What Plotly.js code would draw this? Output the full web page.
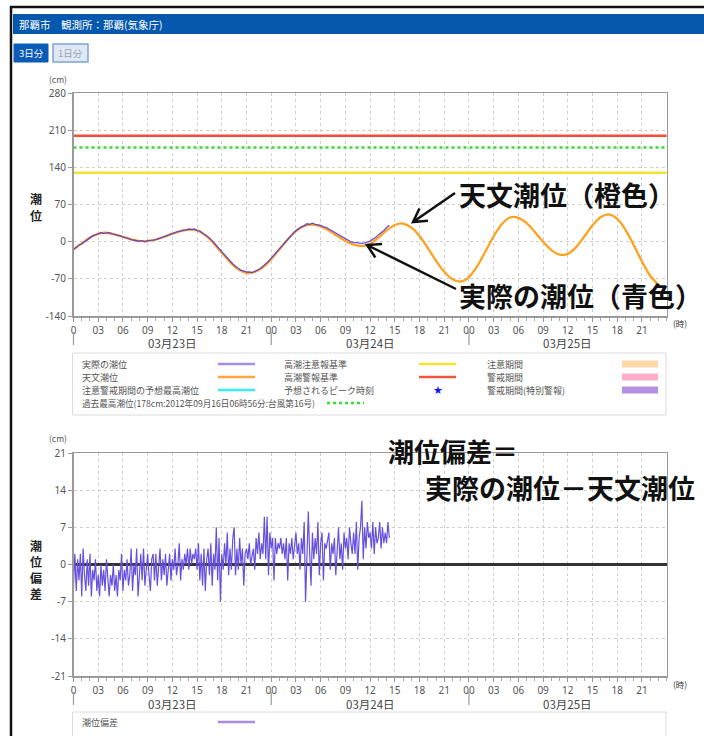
<!DOCTYPE html>
<html>
<head>
<meta charset="utf-8">
<script src="https://cdn.plot.ly/plotly-3.0.1.min.js"></script>
<style>
html,body{margin:0;padding:0;background:#fff;}
#chart{width:704px;height:736px;}
</style>
</head>
<body>
<div id="chart"></div>
<script>
// ---------------- DATA ----------------
// Astronomical tide (cm), hourly from 03/23 00:00
const astroTide = [-14,-3,8,15,17,14,9.3,4.4,1.4,1.4,
  4.3,9.4,15.2,20.1,22.8,21.5,12.6,-2.5,-20.8,-38.5,
  -52,-58.6,-57,-47.9,-32.7,-14.2,4.5,20.1,29.9,32.4,
  28.9,21.2,11.2,1.5,-5.4,-8,-3.6,7.8,21.5,31.7,
  34.4,27,10.7,-11.8,-35.8,-56.7,-70.7,-75,-66.6,-46.1,
  -18.4,10.4,33.5,45.8,45.2,35.1,18.5,-0.1,-15.7,-24.2,
  -22.8,-10.1,10,31.1,46.6,51.5,43,22.4,-6.3,-37.3,
  -64.1,-81.5];
const astroStepHours = 1;

// Observed tide (cm), every 20 minutes from 03/23 00:00
const observedTide = [-15,-10,-6, -4,0,4, 7,11,13, 15,17,16, 17,17,15, 14,12,11,
  9,8,6, 4,3,2, 1,2,0, 2,2,3, 4,6,7, 10,11,13, 15,17,19, 20,22,22, 24,23,24,
  21,20,16, 13,9,5, -2,-7,-13, -19,-26,-31, -37,-42,-46, -50,-54,-55, -57,-57,-58,
  -56,-53,-51, -46,-42,-37, -31,-25,-19, -12,-6,0, 6,11,16, 21,25,28, 30,34,33,
  35,33,32, 31,28,27, 24,21,18, 15,12,8, 5,3,0, -1,-2,-3, -3,-2,0, 1,5,8,
  13,17,21, 27,31];
const observedStepHours = 1/3;

// Tide deviation (cm) = observed - astronomical, every 10 minutes
const tideDeviation = [
  -4,2,-5,1,-3,2,  -6,3,-2,-5,1,-4,  2,-6,-1,-3,1,-5,  -2,-6,0,-4,-1,-5,
  1,-3,-6,-2,-4,0,  -5,-2,-6,-1,-3,2,  -5,-1,-3,1,-4,-2,  3,-5,0,-2,3,-6,
  -1,2,-3,3,-4,0,  2,-2,-5,1,2,-3,  2,-4,-1,3,-3,1,  -2,2,-4,0,2,-3,
  1,-1,3,-2,0,4,  -3,1,-1,2,0,3,  -1,3,0,2,1,3,  -1,4,-3,2,-4,3,
  -5,1,3,-2,4,-4,  2,-1,7,-3,5,-7,  2,-1,4,0,6,-2,  3,-1,5,7,-2,3,
  -1,5,0,3,-4,2,  3,1,4,0,2,3,  -1,5,2,6,1,4,  2,9,1,9,-2,6,
  3,5,-3,5,2,4,  3,5,2,4,1,5,  -3,4,2,5,1,3,  6,2,4,-1,5,2,
  8,-7,4,10,2,-4,  6,1,5,2,8,-2,  4,6,-3,4,3,5,  6,-1,4,2,5,-2,
  3,7,1,4,-1,6,  3,5,1,7,4,2,  6,2,8,-1,5,7,  12,1,7,3,8,5,
  6,3,8,2,7,4,  5,8,3,7,4,6,  4,8,5];
const deviationStepHours = 1/6;

const advisoryLevel = 130;   // 高潮注意報基準
const warningLevel = 200;    // 高潮警報基準
const recordLevel = 178;     // 過去最高潮位
const hoursTotal = 72;

const hourTickValues = [0,3,6,9,12,15,18,21,24,27,30,33,36,39,42,45,48,51,54,57,60,63,66,69];
const hourTickLabels = ["0","03","06","09","12","15","18","21","00","03","06","09","12","15","18","21","00","03","06","09","12","15","18","21"];
const dateLabels = ["03月23日","03月24日","03月25日"];
const dateLabelHours = [12,36,60];
const dateSeparatorHours = [0,24,48];
const tideTickValues = [-140,-70,0,70,140,210,280];
const tideTickLabels = ["-140","-70","0","70","140","210","280"];
const devTickValues = [-21,-14,-7,0,7,14,21];
const devTickLabels = ["-21","-14","-7","0","7","14","21"];
const topTitleChars = ['潮','位'];
const bottomTitleChars = ['潮','位','偏','差'];

// ---------------- LAYOUT HELPERS ----------------
const W = 704, H = 736;
const fx = x => x / W;
const fy = y => 1 - y / H;
const plotL = 73.5, plotR = 666.7;
const topT = 93.3, topB = 316, botT = 453, botB = 676;
const hx = h => fx(plotL) + (fx(plotR) - fx(plotL)) * h / hoursTotal;

const FONT = '"Noto Sans CJK JP", "Noto Sans", sans-serif';
const TICKFONT = {family: '"Noto Sans", "DejaVu Sans", sans-serif', size: 10, color: '#555'};

const seq = (arr, step) => arr.map((_, i) => i * step);

const traces = [
  {x:[0,hoursTotal], y:[advisoryLevel,advisoryLevel], mode:'lines', line:{color:'#f3e433', width:2.5}, name:'高潮注意報基準', xaxis:'x', yaxis:'y', hoverinfo:'skip'},
  {x:[0,hoursTotal], y:[warningLevel,warningLevel], mode:'lines', line:{color:'#f44b3b', width:2.5}, name:'高潮警報基準', xaxis:'x', yaxis:'y', hoverinfo:'skip'},
  {x:[0,hoursTotal], y:[recordLevel,recordLevel], mode:'lines', line:{color:'#2fe02f', width:2.5, dash:'dot'}, name:'過去最高潮位', xaxis:'x', yaxis:'y', hoverinfo:'skip'},
  {x:seq(astroTide, astroStepHours), y:astroTide, mode:'lines', line:{color:'#ffa21f', width:2.3, shape:'spline', smoothing:0.8}, name:'天文潮位', xaxis:'x', yaxis:'y'},
  {x:seq(observedTide, observedStepHours), y:observedTide, mode:'lines', line:{color:'#5a3cdc', width:1.3}, opacity:0.9, name:'実際の潮位', xaxis:'x', yaxis:'y'},
  {x:seq(tideDeviation, deviationStepHours), y:tideDeviation, mode:'lines', line:{color:'#6650df', width:1.2}, name:'潮位偏差', xaxis:'x2', yaxis:'y2'}
];

function xAxis(anchor){
  return {
    domain:[fx(plotL), fx(plotR)], range:[0,hoursTotal], anchor:anchor,
    tickmode:'array', tickvals:hourTickValues, ticktext:hourTickLabels,
    ticks:'outside', ticklen:4, tickcolor:'#999', tickfont:TICKFONT,
    showgrid:true, gridcolor:'#cfcfcf', griddash:'dot', gridwidth:1,
    showline:true, linecolor:'#9a9a9a', linewidth:1.5, mirror:true,
    zeroline:false, fixedrange:true,
    minor:{tickmode:'linear', tick0:0, dtick:1, ticks:'outside', ticklen:3, tickcolor:'#aaa', showgrid:false}
  };
}

const shapes = [];
const annotations = [];

function rect(x0,y0,x1,y1,fill,line,lw){
  shapes.push({type:'rect', xref:'paper', yref:'paper', x0:fx(x0), x1:fx(x1), y0:fy(y0), y1:fy(y1),
    fillcolor:fill, line:{color:line||'rgba(0,0,0,0)', width:lw||0}, layer:'below'});
}
function seg(x0,y0,x1,y1,color,w,dash){
  shapes.push({type:'line', xref:'paper', yref:'paper', x0:fx(x0), x1:fx(x1), y0:fy(y0), y1:fy(y1),
    line:{color:color, width:w, dash:dash||'solid'}});
}
function txt(text,x,y,opts){
  opts = opts || {};
  annotations.push({text:text, xref:'paper', yref:'paper', x:fx(x), y:fy(y), showarrow:false,
    xanchor:opts.xanchor||'left', yanchor:'middle', align:opts.align||'left', borderpad:0,
    font:{family:opts.family||FONT, size:opts.size||9, color:opts.color||'#555', weight:opts.weight||400}});
}
function arrow(x1,y1,x2,y2){
  // from (x1,y1) tail to (x2,y2) tip, open arrow head
  const dx = x1-x2, dy = y1-y2, L = Math.hypot(dx,dy);
  const ux = dx/L, uy = dy/L, len = 15, a = Math.PI/6;
  const r = (c,s) => [x2 + len*(ux*c - uy*s), y2 + len*(ux*s + uy*c)];
  const p1 = r(Math.cos(a), Math.sin(a)), p2 = r(Math.cos(-a), Math.sin(-a));
  const P = (x,y) => fx(x)+','+fy(y);
  shapes.push({type:'path', xref:'paper', yref:'paper',
    path:'M'+P(x1,y1)+' L'+P(x2,y2)+' M'+P(p1[0],p1[1])+' L'+P(x2,y2)+' L'+P(p2[0],p2[1]),
    line:{color:'#111', width:2.5}});
}

// page frame + header
seg(11,6,11,736,'#111',2.5);
seg(10,7,704,7,'#111',2.5);
rect(13,14,704,34,'#0558ad');
txt('那覇市　観測所：那覇(気象庁)',18,24,{color:'#ffffff',size:10.5});
rect(14,44,48,62,'#0b5cb8','#0b5cb8',1);
txt('3日分',31,53,{color:'#ffffff',size:9.5,xanchor:'center'});
rect(53,44,88,62,'#dfe8f4','#7da4d6',1.5);
txt('1日分',70.5,53,{color:'#9aa6b5',size:9.5,xanchor:'center'});

// axis units and titles
txt('(cm)',58,79,{xanchor:'center',size:8.5});
txt('(cm)',58,438,{xanchor:'center',size:8.5});
txt('(時)',680,323,{xanchor:'center',size:8.5,color:'#333'});
txt('(時)',680,684,{xanchor:'center',size:8.5,color:'#333'});
const TITLE = {xanchor:'center',size:12,color:'#222',weight:700};
topTitleChars.forEach((c,i)=>txt(c,36,199+i*16,TITLE));
bottomTitleChars.forEach((c,i)=>txt(c,36,545+i*16,TITLE));

// date labels and separators for both charts
[[343,332,345],[704,692,705]].forEach(([ly,s0,s1])=>{
  dateLabels.forEach((d,i)=>{
    annotations.push({text:d, xref:'paper', yref:'paper', x:hx(dateLabelHours[i]), y:fy(ly), showarrow:false,
      xanchor:'center', yanchor:'middle', borderpad:0, font:{family:FONT,size:11.5,color:'#444'}});
  });
  dateSeparatorHours.forEach(h=>{
    shapes.push({type:'line', xref:'paper', yref:'paper', x0:hx(h), x1:hx(h), y0:fy(s0), y1:fy(s1), line:{color:'#999',width:1.2}});
  });
});

// top legend
rect(72.5,353,666,415,'#ffffff','#dcdcdc',1);
const legRows = [364,377,390,403];
txt('実際の潮位',81,legRows[0]); seg(218,legRows[0],255,legRows[0],'#a68de8',2.5);
txt('天文潮位',81,legRows[1]); seg(218,legRows[1],255,legRows[1],'#ffa640',2.5);
txt('注意警戒期間の予想最高潮位',81,legRows[2]); seg(218,legRows[2],255,legRows[2],'#36f0f0',2.5);
txt('過去最高潮位(178cm:2012年09月16日06時56分:台風第16号)',81,legRows[3],{size:8.6}); seg(327,legRows[3],364,legRows[3],'#33e033',2.5,'dot');
txt('高潮注意報基準',283,legRows[0]); seg(419,legRows[0],456,legRows[0],'#f3e433',2.5);
txt('高潮警報基準',283,legRows[1]); seg(419,legRows[1],456,legRows[1],'#f4553f',2.5);
txt('予想されるピーク時刻',283,legRows[2]);
txt('★',438,legRows[2],{xanchor:'center',size:11,color:'#1414ff',family:'"DejaVu Sans", sans-serif'});
txt('注意期間',486,legRows[0]); rect(622,legRows[0]-3.5,658,legRows[0]+3.5,'#ffd9a8');
txt('警戒期間',486,legRows[1]); rect(622,legRows[1]-3.5,658,legRows[1]+3.5,'#ffadc9');
txt('警戒期間(特別警報)',486,legRows[2]); rect(622,legRows[2]-3.5,658,legRows[2]+3.5,'#b391e0');

// bottom legend
rect(72.5,712,666,745,'#ffffff','#dcdcdc',1);
txt('潮位偏差',81,722); seg(218,722,255,722,'#a68de8',2.5);

// big explanatory notes and arrows
const NOTE = {size:27, color:'#111', weight:700, family:'"Noto Sans CJK JP", sans-serif'};
txt('天文潮位（橙色）',458,194,NOTE);
txt('実際の潮位（青色）',458,295,NOTE);
txt('潮位偏差＝',387,450,Object.assign({},NOTE,{size:26}));
txt('実際の潮位－天文潮位',424,487,NOTE);
arrow(455,193,413,222);
arrow(456,289,367,245);

const layout = {
  width:W, height:H, autosize:false,
  margin:{l:0,r:0,t:0,b:0},
  paper_bgcolor:'#ffffff', plot_bgcolor:'#ffffff',
  showlegend:false,
  xaxis: xAxis('y'),
  xaxis2: xAxis('y2'),
  yaxis:{domain:[fy(topB), fy(topT)], range:[-140,280], anchor:'x',
    tickmode:'array', tickvals:tideTickValues, ticktext:tideTickLabels,
    ticks:'outside', ticklen:4, tickcolor:'#999', tickfont:TICKFONT,
    showgrid:true, gridcolor:'#cfcfcf', griddash:'dot',
    showline:true, linecolor:'#9a9a9a', linewidth:1.5, mirror:true, zeroline:false, fixedrange:true},
  yaxis2:{domain:[fy(botB), fy(botT)], range:[-21,21], anchor:'x2',
    tickmode:'array', tickvals:devTickValues, ticktext:devTickLabels,
    ticks:'outside', ticklen:4, tickcolor:'#999', tickfont:TICKFONT,
    showgrid:true, gridcolor:'#cfcfcf', griddash:'dot',
    showline:true, linecolor:'#9a9a9a', linewidth:1.5, mirror:true,
    zeroline:true, zerolinecolor:'#333', zerolinewidth:2.5, fixedrange:true},
  shapes:shapes,
  annotations:annotations
};

Plotly.newPlot('chart', traces, layout, {displayModeBar:false, staticPlot:true});
</script>
</body>
</html>
